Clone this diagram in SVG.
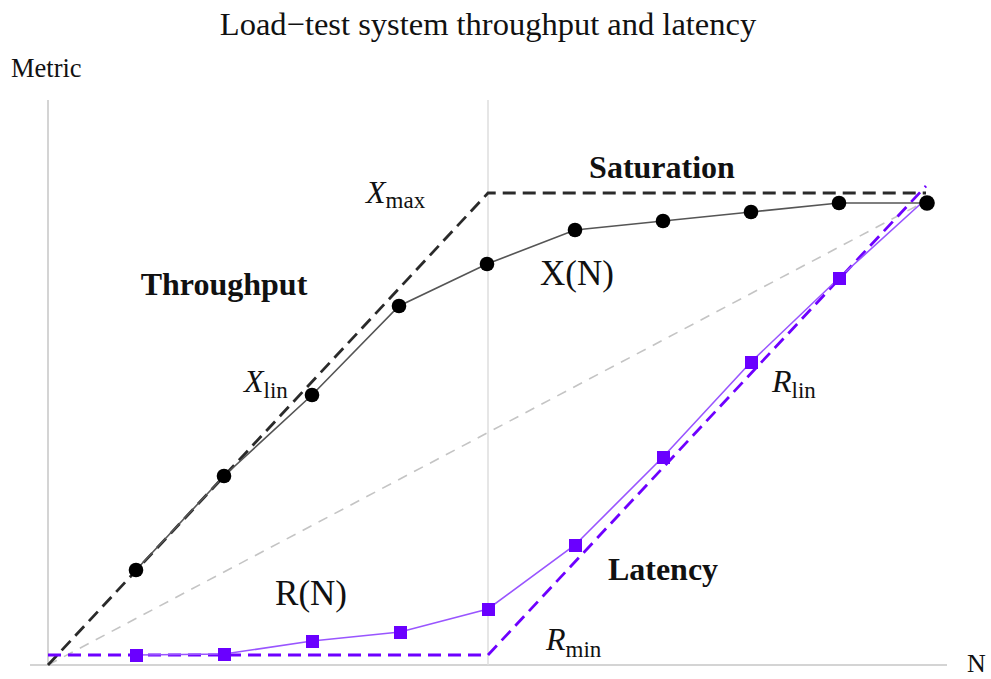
<svg xmlns="http://www.w3.org/2000/svg" width="991" height="679" viewBox="0 0 991 679">
<style>
.t{font-family:"Liberation Serif",serif;fill:#111}
.b{font-weight:bold}
.i{font-style:italic}
.axis{stroke:#d4d4d4;stroke-width:2;fill:none}
.grid{stroke:#dedede;stroke-width:1.5;fill:none}
.bd{stroke:#2a2a2a;stroke-width:2.8;stroke-dasharray:13 7;fill:none}
.gd{stroke:#c4c4c4;stroke-width:1.6;stroke-dasharray:10 8;fill:none}
.pd{stroke:#6e00ff;stroke-width:2.8;stroke-dasharray:13 7;fill:none;stroke-linejoin:round}
.xl{stroke:#555;stroke-width:1.6;fill:none}
.rl{stroke:#9955ff;stroke-width:1.6;fill:none}
.pt{fill:#000}
.sq{fill:#6a00ff}
</style>
<rect width="991" height="679" fill="#fff"/>
<g id="title"><text class="t" x="488" y="35" font-size="32.5" text-anchor="middle">Load−test system throughput and latency</text></g>
<g id="axes">
<line class="axis" x1="48" y1="100" x2="48" y2="666"/>
<line class="axis" x1="30" y1="665" x2="947" y2="665"/>
<line class="grid" x1="488" y1="100" x2="488" y2="665"/>
<text class="t" x="11" y="77" font-size="26.5">Metric</text>
<text class="t" x="967" y="672" font-size="26">N</text>
</g>
<g id="connectors">
<polyline class="gd" points="48,665 928,200"/>
<polyline class="bd" points="48,665 488,193 926,193"/>
<polyline class="pd" points="48,655 488,655 926,186"/>
<polyline class="xl" points="136,570 224,476 312,395 399,306 487,264 575,230 663,221 751,212 839,203 927,203"/>
<polyline class="rl" points="136,655 224,654 312,641 400,632 488,609 575,545 663,457 751,362 839,278 927,198"/>
</g>
<g id="x-points">
<circle class="pt" cx="136" cy="570" r="7.3"/>
<circle class="pt" cx="224" cy="476" r="7.3"/>
<circle class="pt" cx="312" cy="395" r="7.3"/>
<circle class="pt" cx="399" cy="306" r="7.3"/>
<circle class="pt" cx="487" cy="264" r="7.3"/>
<circle class="pt" cx="575" cy="230" r="7.3"/>
<circle class="pt" cx="663" cy="221" r="7.3"/>
<circle class="pt" cx="751" cy="212" r="7.3"/>
<circle class="pt" cx="839" cy="203" r="7.3"/>
<circle class="pt" cx="927" cy="203" r="7.8"/>
</g>
<g id="r-points">
<rect class="sq" x="130" y="649" width="13" height="13"/>
<rect class="sq" x="218" y="648" width="13" height="13"/>
<rect class="sq" x="306" y="635" width="13" height="13"/>
<rect class="sq" x="394" y="626" width="13" height="13"/>
<rect class="sq" x="482" y="603" width="13" height="13"/>
<rect class="sq" x="569" y="539" width="13" height="13"/>
<rect class="sq" x="657" y="451" width="13" height="13"/>
<rect class="sq" x="745" y="356" width="13" height="13"/>
<rect class="sq" x="833" y="272" width="13" height="13"/>
</g>
<g id="labels">
<text class="t b" x="662" y="178" font-size="32" text-anchor="middle">Saturation</text>
<text class="t b" x="224" y="295" font-size="32" text-anchor="middle">Throughput</text>
<text class="t b" x="663" y="580" font-size="32" text-anchor="middle">Latency</text>
<text class="t" x="577" y="285" font-size="35" text-anchor="middle">X(N)</text>
<text class="t" x="311" y="605" font-size="35" text-anchor="middle">R(N)</text>
<text class="t" x="366" y="203"><tspan class="i" font-size="32">X</tspan><tspan font-size="23" dy="5">max</tspan></text>
<text class="t" x="244" y="392"><tspan class="i" font-size="32">X</tspan><tspan font-size="23" dy="6">lin</tspan></text>
<text class="t" x="772" y="392"><tspan class="i" font-size="32">R</tspan><tspan font-size="23" dy="6">lin</tspan></text>
<text class="t" x="546" y="650"><tspan class="i" font-size="32">R</tspan><tspan font-size="23" dy="7">min</tspan></text>
</g>
</svg>
